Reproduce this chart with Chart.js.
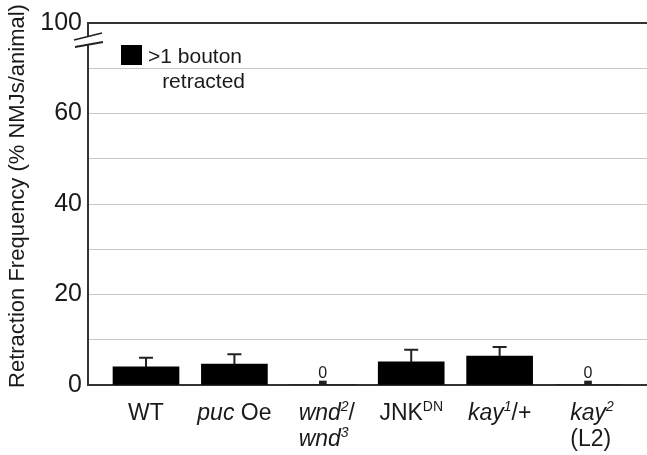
<!DOCTYPE html>
<html>
<head>
<meta charset="utf-8">
<script src="https://cdn.jsdelivr.net/npm/chart.js@4.4.0/dist/chart.umd.min.js"></script>
<style>
  html, body { margin: 0; padding: 0; background: #fff; }
  #wrap { width: 647px; height: 455px; }
</style>
</head>
<body>
<div id="wrap"><canvas id="retraction-chart"></canvas></div>
<script>
// genotypes, left to right
const categories = ['WT', 'puc Oe', 'wnd2/wnd3', 'JNKDN', 'kay1/+', 'kay2 (L2)'];
// same labels with markup: *italic*, ^superscript^ (~...~ italic superscript), | = new line
const categoryLabels = ['WT', '*puc* Oe', '*wnd*~2~/|*wnd*~3~', 'JNK^DN^', '*kay*~1~/+', '*kay*~2~|(L2)'];
// % NMJs per animal with >1 bouton retracted, and the SEM
const retractionValues = [4.0, 4.6, 0, 5.1, 6.4, 0];
const errorValues = [2.0, 2.2, 0, 2.7, 2.0, 0];
// y axis: labelled ticks, plus the broken top line that stands for 100
const yTicks = [0, 20, 40, 60];
const yBreakTick = 80;
const yBreakLabel = '100';
const yTitle = 'Retraction Frequency (% NMJs/animal)';
const legendLines = ['>1 bouton', 'retracted'];

const FONT = '"Liberation Sans", Arial, sans-serif';
const INK = '#1a1a1a';

// split "*puc* Oe" into styled pieces
function parseMarkup(line) {
  return line.split(/(\*[^*]*\*|\^[^^]*\^|~[^~]*~)/).filter(s => s.length).map(s => {
    if (s[0] === '*') return { text: s.slice(1, -1), style: 'italic' };
    if (s[0] === '^') return { text: s.slice(1, -1), style: 'sup' };
    if (s[0] === '~') return { text: s.slice(1, -1), style: 'isup' };
    return { text: s, style: 'normal' };
  });
}

function pieceFont(style) {
  if (style === 'italic') return 'italic 23px ' + FONT;
  if (style === 'sup') return '14px ' + FONT;
  if (style === 'isup') return 'italic 14px ' + FONT;
  return '23px ' + FONT;
}

function lineWidth(ctx, pieces) {
  return pieces.reduce((w, p) => { ctx.font = pieceFont(p.style); return w + ctx.measureText(p.text).width; }, 0);
}

const annotations = {
  id: 'annotations',
  afterDatasetsDraw(chart) {
    const { ctx, chartArea, scales: { x, y } } = chart;
    ctx.save();

    // error bars (upper half only)
    ctx.strokeStyle = '#222';
    ctx.lineWidth = 2;
    retractionValues.forEach((v, i) => {
      if (!errorValues[i]) return;
      const px = x.getPixelForValue(i);
      const base = y.getPixelForValue(v);
      const top = y.getPixelForValue(v + errorValues[i]);
      ctx.beginPath();
      ctx.moveTo(px, base);
      ctx.lineTo(px, top);
      ctx.moveTo(px - 7, top);
      ctx.lineTo(px + 7, top);
      ctx.stroke();
    });

    // "0" above empty bars
    ctx.fillStyle = INK;
    ctx.font = '16px ' + FONT;
    ctx.textAlign = 'center';
    ctx.textBaseline = 'alphabetic';
    retractionValues.forEach((v, i) => {
      if (v !== 0) return;
      ctx.fillText('0', x.getPixelForValue(i), y.getPixelForValue(0) - 7);
    });

    // category labels
    ctx.textAlign = 'left';
    categoryLabels.forEach((label, i) => {
      const lines = label.split('|').map(parseMarkup);
      const widths = lines.map(l => lineWidth(ctx, l));
      const blockW = Math.max(...widths);
      const left = x.getPixelForValue(i) - blockW / 2 + (lines.length > 1 ? 4 : 0);
      lines.forEach((pieces, li) => {
        let cx = lines.length > 1 ? left : x.getPixelForValue(i) - widths[li] / 2;
        const baseY = chartArea.bottom + 35 + li * 26;
        pieces.forEach(p => {
          ctx.font = pieceFont(p.style);
          const raised = p.style === 'sup' || p.style === 'isup';
          ctx.fillText(p.text, cx, raised ? baseY - 9 : baseY);
          cx += ctx.measureText(p.text).width;
        });
      });
    });

    // legend box
    ctx.fillStyle = '#000';
    ctx.fillRect(chartArea.left + 33, chartArea.top + 22, 21, 20);
    ctx.fillStyle = INK;
    ctx.font = '21px ' + FONT;
    ctx.textAlign = 'left';
    ctx.fillText(legendLines[0], chartArea.left + 60, chartArea.top + 40);
    ctx.textAlign = 'right';
    ctx.fillText(legendLines[1], chartArea.left + 157, chartArea.top + 65);

    ctx.restore();
  },
  afterDraw(chart) {
    const { ctx, chartArea } = chart;
    const l = chartArea.left, t = chartArea.top;
    ctx.save();

    // axis break marks
    ctx.fillStyle = '#fff';
    ctx.beginPath();
    ctx.moveTo(l - 14, t + 17);
    ctx.lineTo(l + 14, t + 10);
    ctx.lineTo(l + 15, t + 19);
    ctx.lineTo(l - 13, t + 24);
    ctx.closePath();
    ctx.fill();
    ctx.strokeStyle = '#222';
    ctx.lineWidth = 1.8;
    ctx.beginPath();
    ctx.moveTo(l - 14, t + 17);
    ctx.lineTo(l + 14, t + 10);
    ctx.moveTo(l - 13, t + 24);
    ctx.lineTo(l + 15, t + 19);
    ctx.stroke();

    // y axis title
    ctx.translate(18, 196);
    ctx.rotate(-Math.PI / 2);
    ctx.fillStyle = INK;
    ctx.font = '22px ' + FONT;
    ctx.textAlign = 'center';
    ctx.textBaseline = 'middle';
    ctx.fillText(yTitle, 0, 0);
    ctx.restore();
  }
};

const barData = retractionValues.map((v, i) => ({ x: i, y: v }));
const zeroData = retractionValues.map((v, i) => (v === 0 ? { x: i, y: 0 } : null)).filter(Boolean);

new Chart(document.getElementById('retraction-chart'), {
  type: 'bar',
  data: {
    labels: categories,
    datasets: [
      { label: '>1 bouton retracted', data: barData, backgroundColor: '#000', barThickness: 66, grouped: false },
      { label: 'zero', data: zeroData, backgroundColor: '#222', barThickness: 7, minBarLength: 4, grouped: false }
    ]
  },
  options: {
    responsive: true,
    maintainAspectRatio: false,
    animation: false,
    layout: { padding: { top: 23, bottom: 70, left: 0, right: 0 } },
    plugins: { legend: { display: false }, tooltip: { enabled: false } },
    scales: {
      x: {
        type: 'linear',
        min: -0.656,
        max: 5.667,
        offset: false,
        ticks: { display: false },
        grid: { display: false, drawTicks: false },
        border: { display: true, color: '#333', width: 2 }
      },
      y: {
        min: 0,
        max: yBreakTick,
        afterFit: scale => { scale.width = 88; },
        ticks: {
          stepSize: 10,
          padding: 6,
          color: INK,
          font: { family: FONT, size: 25 },
          callback: v => (v === yBreakTick ? yBreakLabel : yTicks.includes(v) ? String(v) : '')
        },
        grid: {
          drawTicks: false,
          color: c => (c.tick && c.tick.value === yBreakTick ? '#333' : '#c8c8c8'),
          lineWidth: c => (c.tick && c.tick.value === yBreakTick ? 2 : 1)
        },
        border: { display: true, color: '#333', width: 2 }
      }
    }
  },
  plugins: [annotations]
});
</script>
</body>
</html>
